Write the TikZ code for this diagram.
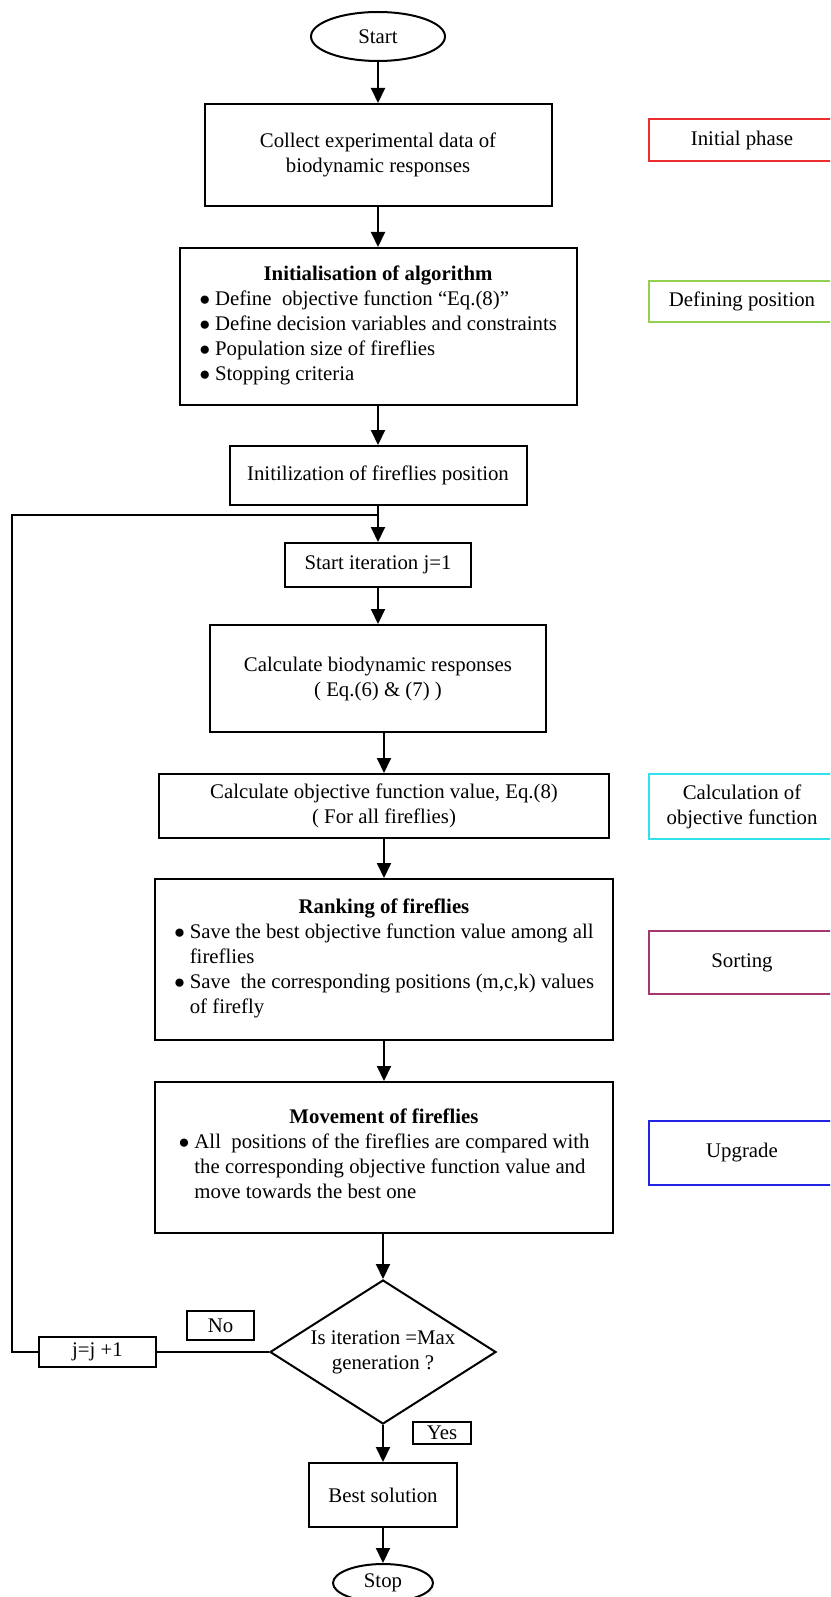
\documentclass[tikz,border=0pt]{standalone}
\usepackage{fontspec}
\setmainfont{Liberation Serif}
\usetikzlibrary{shapes.geometric,arrows.meta}

\definecolor{phasered}{RGB}{236,45,45}
\definecolor{phasegreen}{RGB}{146,208,80}
\definecolor{phasecyan}{RGB}{50,225,235}
\definecolor{phasepurple}{RGB}{165,55,110}
\definecolor{phaseblue}{RGB}{35,35,230}

\newcommand{\fbul}{\makebox[16pt][l]{\fontsize{19}{25}\selectfont ●}}
\newcommand{\fcont}{\hspace*{16pt}}

\tikzset{every picture/.style={line width=2pt}}
\tikzset{
  every node/.style={font=\fontsize{20.8}{25}\selectfont, inner sep=0pt, align=center},
  procbox/.style={draw, rectangle},
  phasebox/.style={draw, rectangle, line width=2.2pt},
  labelbox/.style={draw, rectangle},
  terminal/.style={draw, ellipse},
  testbox/.style={draw, diamond, aspect=1.57},
  flow/.style={-{Triangle[length=15pt,width=14pt]}}
}

\begin{document}
\begin{tikzpicture}[x=1pt,y=1pt,yscale=-1,xscale=1]
  \useasboundingbox (0,0) rectangle (830,1597);
  \clip (0,0) rectangle (830,1597);

  %Shape: Ellipse
  \node[terminal, minimum width=134, minimum height=49] (start) at (378,36.5) {Start};
  %Shape: Rectangle
  \node[procbox, minimum width=347, minimum height=102] (collect) at (378,155) {Collect experimental data of\\biodynamic responses};
  %Shape: Rectangle
  \node[procbox, minimum width=397, minimum height=157] (init) at (378,326.5) {\textbf{Initialisation of algorithm}\\
    \begin{tabular}[t]{@{}l@{}}
      \fbul Define\ \ objective function “Eq.(8)”\\
      \fbul Define decision variables and constraints\\
      \fbul Population size of fireflies\\
      \fbul Stopping criteria
    \end{tabular}};
  %Shape: Rectangle
  \node[procbox, minimum width=297, minimum height=59] (firepos) at (378,475.5) {Initilization of fireflies position};
  %Shape: Rectangle
  \node[procbox, minimum width=186, minimum height=44] (iterstart) at (378,565) {Start iteration j=1};
  %Shape: Rectangle
  \node[procbox, minimum width=336, minimum height=107] (calcbio) at (378,678.5) {Calculate biodynamic responses\\( Eq.(6) \& (7) )};
  %Shape: Rectangle
  \node[procbox, minimum width=450, minimum height=64] (calcobj) at (384,806) {Calculate objective function value, Eq.(8)\\( For all fireflies)};
  %Shape: Rectangle
  \node[procbox, minimum width=458, minimum height=161] (ranking) at (384,959.5) {\textbf{Ranking of fireflies}\\
    \begin{tabular}[t]{@{}l@{}}
      \fbul Save the best objective function value among all\\
      \fcont fireflies\\
      \fbul Save\ \ the corresponding positions (m,c,k) values\\
      \fcont of firefly
    \end{tabular}};
  %Shape: Rectangle
  \node[procbox, minimum width=458, minimum height=151] (movement) at (384,1157.5) {\textbf{Movement of fireflies}\\
    \begin{tabular}[t]{@{}l@{}}
      \fbul All\ \ positions of the fireflies are compared with\\
      \fcont the corresponding objective function value and\\
      \fcont move towards the best one
    \end{tabular}};
  %Shape: Diamond
  \node[testbox, minimum width=226, minimum height=144] (maxgen) at (383,1352) {Is iteration =Max\\generation ?};
  %Shape: Rectangle
  \node[procbox, minimum width=148, minimum height=64] (best) at (383,1495) {Best solution};
  %Shape: Ellipse
  \node[terminal, minimum width=100, minimum height=38] (stop) at (383,1583) {Stop};
  %Shape: Rectangle
  \node[procbox, minimum width=117, minimum height=30] (jinc) at (97.5,1352) {j=j +1};
  % Text Node
  \node[labelbox, minimum width=67, minimum height=29] (no) at (220.5,1325.5) {No};
  % Text Node
  \node[labelbox, minimum width=58, minimum height=22] (yes) at (442,1433) {Yes};

  %Shape: Rectangle
  \node[phasebox, draw=phasered, minimum width=186, minimum height=42] (initial) at (742,140) {Initial phase};
  %Shape: Rectangle
  \node[phasebox, draw=phasegreen, minimum width=186, minimum height=41] (defining) at (742,301.5) {Defining position};
  %Shape: Rectangle
  \node[phasebox, draw=phasecyan, minimum width=186, minimum height=65] (objcalc) at (742,806.5) {Calculation of\\objective function};
  %Shape: Rectangle
  \node[phasebox, draw=phasepurple, minimum width=186, minimum height=63] (sorting) at (742,962.5) {Sorting};
  %Shape: Rectangle
  \node[phasebox, draw=phaseblue, minimum width=186, minimum height=64] (upgrade) at (742,1153) {Upgrade};

  %Straight Lines
  \draw[flow] (start.south) -- (collect.north);
  \draw[flow] (collect.south) -- (init.north);
  \draw[flow] (init.south) -- (firepos.north);
  \draw[flow] (firepos.south) -- (iterstart.north);
  \draw[flow] (iterstart.south) -- (calcbio.north);
  \draw[flow] (calcbio.south -| calcobj.north) -- (calcobj.north);
  \draw[flow] (calcobj.south) -- (ranking.north);
  \draw[flow] (ranking.south) -- (movement.south |- movement.north);
  \draw[flow] (movement.south -| maxgen.north) -- (maxgen.north);
  \draw[flow] (maxgen.south) -- (best.north);
  \draw[flow] (best.south) -- (stop.north);

  %Loop back
  \coordinate (loopin) at (378,515);
  \coordinate (loopleft) at (12,1352);
  \draw (maxgen.west) -- (jinc.east);
  \draw (jinc.west) -- (loopleft) |- (loopin);

\end{tikzpicture}
\end{document}
